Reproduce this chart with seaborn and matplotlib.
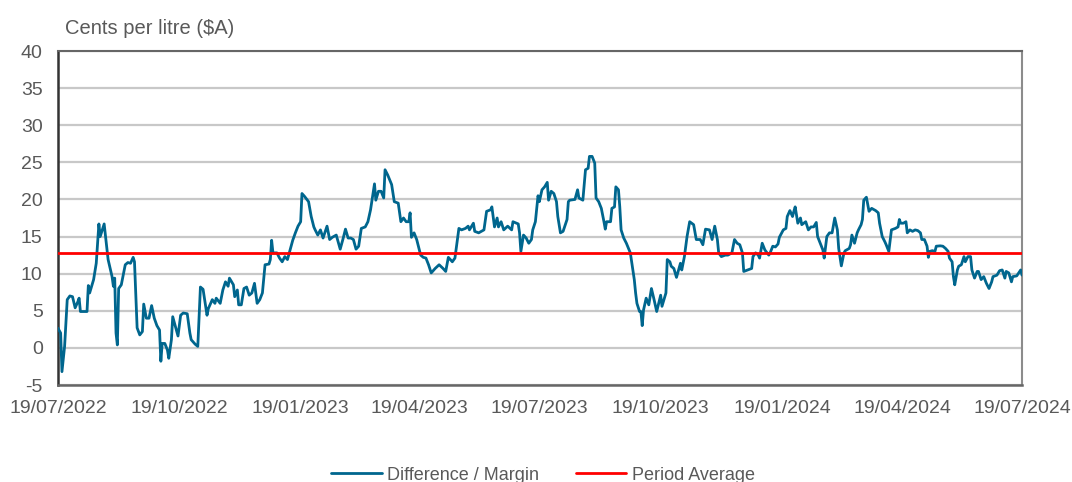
import numpy as np
import pandas as pd
import matplotlib
matplotlib.use("Agg")
import matplotlib.pyplot as plt
import seaborn as sns
from matplotlib.lines import Line2D

start_date = "2022-07-19"

day_offset = [
    0, 2, 3, 5, 7, 9, 11, 13, 15, 16, 17, 22, 23, 24, 27, 29, 31, 32, 35, 38,
    41, 42, 43, 44, 45, 46, 48, 51, 53, 55, 57, 58, 60, 62, 64, 65, 67, 69, 71, 73,
    75, 77, 78, 79, 81, 83, 84, 86, 87, 89, 91, 93, 95, 98, 100, 101, 104, 106, 108, 110,
    113, 114, 117, 119, 120, 123, 125, 127, 129, 130, 133, 134, 136, 137, 139, 141, 143, 145, 147, 149,
    151, 153, 155, 157, 160, 161, 162, 163, 166, 168, 170, 172, 174, 176, 178, 180, 182, 184,
    185, 187, 190, 192, 194, 195, 197, 199, 201, 204, 206, 208, 211, 214, 216, 218, 220, 222, 224, 226,
    228, 230, 233, 235, 237, 240, 241, 243, 245, 247, 248, 250, 253, 255, 258, 260, 262, 264, 266, 267,
    268, 270, 272, 275, 277, 279, 281, 283, 286, 289, 292, 294, 296, 299, 301, 304, 306, 309, 311, 312,
    315, 316, 319, 321, 323, 325, 328, 329, 331, 333, 334, 336, 338, 341, 344, 345, 349, 350, 351, 353,
    355, 357, 359, 360, 362, 364, 365, 367, 369, 371, 372, 374, 376, 378, 379, 381, 383, 386, 387, 388,
    392, 394, 395, 398, 400, 402, 403, 405, 407, 408, 410, 412, 414, 415, 416, 419, 420, 422, 423, 425,
    426, 427, 429, 431, 434, 435, 437, 438, 439, 441, 442, 443, 444, 446, 448, 450, 452, 454, 457, 458,
    461, 462, 464, 465, 467, 469, 472, 473, 475, 477, 479, 482, 484, 487, 489, 491, 494, 496, 498, 500,
    501, 503, 506, 508, 511, 513, 515, 517, 519, 520, 523, 526, 527, 529, 531, 532, 534, 536, 539, 540,
    542, 544, 546, 547, 550, 552, 553, 555, 557, 558, 559, 561, 563, 564, 567, 569, 571, 573, 575, 576,
    578, 580, 581, 583, 585, 587, 589, 591, 592, 594, 596, 597, 600, 601, 602, 604, 606, 607, 609, 610,
    611, 613, 615, 617, 620, 622, 623, 625, 627, 628, 630, 632, 635, 637, 638, 639, 641, 643, 644, 646,
    648, 650, 652, 654, 655, 657, 659, 660, 661, 663, 665, 666, 669, 671, 673, 675, 676, 678, 679, 680,
    682, 683, 685, 687, 688, 690, 692, 693, 695, 697, 698, 700, 702, 704, 706, 708, 709, 712, 714, 716,
    718, 719, 721, 723, 724, 727, 730, 731,
]

margin = [
    2.65, 2.0, -3.2, 0.2, 6.5, 7.0, 6.9, 5.4, 6.2, 6.7, 4.9, 4.9, 8.4, 7.4, 9.2, 11.4, 16.7, 15.0, 16.7, 11.9,
    9.6, 8.3, 9.4, 2.0, 0.4, 8.0, 8.5, 11.2, 11.5, 11.4, 12.2, 11.6, 2.7, 1.75, 2.2, 5.9, 4.0, 4.0, 5.7, 4.0,
    3.0, 2.4, -1.8, 0.6, 0.6, -0.3, -1.4, 1.1, 4.2, 2.9, 1.6, 4.4, 4.7, 4.6, 2.0, 1.1, 0.5, 0.2, 8.2, 7.9,
    4.4, 5.3, 6.5, 6.0, 6.7, 6.0, 7.8, 8.9, 8.3, 9.4, 8.5, 6.9, 7.8, 5.8, 5.8, 8.0, 8.2, 7.1, 7.4, 8.7,
    6.0, 6.5, 7.4, 11.2, 11.3, 11.9, 14.5, 12.8, 12.8, 12.1, 11.6, 12.3, 11.9, 13.2, 14.5, 15.5, 16.4, 17.0,
    20.8, 20.4, 19.7, 17.7, 16.3, 15.9, 15.2, 15.9, 14.8, 16.4, 14.6, 14.9, 15.2, 13.3, 14.6, 16.0, 14.8, 14.8, 14.6, 13.3,
    13.7, 16.1, 16.3, 17.0, 18.6, 22.1, 19.9, 21.1, 21.1, 20.2, 24.0, 23.3, 22.0, 19.7, 19.5, 17.0, 17.5, 17.0, 17.0, 18.2,
    14.9, 15.5, 14.6, 12.5, 12.2, 12.1, 11.2, 10.1, 10.7, 11.2, 10.7, 10.3, 12.2, 11.6, 12.1, 16.1, 15.9, 16.1, 16.4, 15.9,
    16.8, 15.7, 15.5, 15.7, 15.9, 18.4, 18.6, 19.0, 16.3, 17.5, 16.3, 17.0, 15.9, 16.4, 15.9, 17.0, 16.7, 15.5, 13.0, 15.2,
    14.8, 14.1, 14.6, 15.9, 17.0, 20.5, 19.7, 21.3, 21.7, 22.3, 19.9, 21.1, 20.8, 19.7, 17.7, 15.5, 15.7, 17.3, 19.7, 19.9,
    20.0, 21.3, 20.2, 19.9, 24.0, 24.2, 25.8, 25.8, 24.9, 20.2, 19.7, 18.8, 17.0, 16.0, 17.0, 17.0, 18.8, 19.0, 21.7, 21.3,
    19.0, 15.9, 14.8, 14.1, 12.8, 11.6, 9.2, 7.4, 6.0, 4.9, 4.9, 3.0, 5.1, 6.7, 5.8, 8.0, 6.5, 4.9, 7.1, 5.6,
    7.4, 11.9, 11.6, 11.0, 10.7, 9.5, 11.4, 10.5, 12.3, 15.0, 17.0, 16.6, 14.6, 14.6, 13.9, 16.0, 15.9, 14.6, 16.4, 14.6,
    12.8, 12.3, 12.5, 12.5, 12.8, 14.6, 14.1, 13.9, 12.8, 10.3, 10.5, 10.7, 12.3, 12.8, 12.5, 12.1, 14.1, 13.2, 12.5, 12.8,
    13.7, 13.6, 14.0, 14.9, 15.9, 16.1, 17.7, 18.5, 17.7, 18.4, 19.0, 16.8, 17.5, 16.6, 17.0, 15.9, 16.3, 16.3, 16.9, 15.0,
    14.1, 13.2, 12.1, 15.0, 15.5, 15.5, 17.5, 15.9, 13.4, 11.05, 12.8, 13.1, 13.4, 13.9, 15.2, 14.1, 15.5, 15.9, 16.6, 17.3,
    19.9, 20.3, 18.4, 18.8, 18.5, 18.2, 16.8, 15.0, 14.3, 13.9, 13.0, 15.9, 16.1, 16.3, 17.3, 16.8, 16.8, 17.0, 15.5, 15.9,
    15.7, 15.9, 15.8, 15.5, 14.6, 14.6, 13.7, 12.2, 13.0, 13.1, 13.0, 13.7, 13.75, 13.7, 13.4, 13.0, 12.1, 11.6, 9.6, 8.5,
    10.5, 11.0, 11.2, 12.3, 11.6, 12.3, 12.3, 10.5, 9.4, 10.3, 10.3, 9.2, 9.6, 8.7, 8.0, 8.9, 9.6, 9.8, 10.4, 10.5,
    9.4, 10.3, 10.1, 8.9, 9.6, 9.7, 10.5, 9.8,
]

period_average = 12.8

tick_dates = ["2022-07-19", "2022-10-19", "2023-01-19", "2023-04-19", "2023-07-19",
              "2023-10-19", "2024-01-19", "2024-04-19", "2024-07-19"]
tick_labels = ["19/07/2022", "19/10/2022", "19/01/2023", "19/04/2023", "19/07/2023",
               "19/10/2023", "19/01/2024", "19/04/2024", "19/07/2024"]
y_ticks = [-5, 0, 5, 10, 15, 20, 25, 30, 35, 40]
series_names = ["Difference / Margin", "Period Average"]
y_title = "Cents per litre ($A)"

sns.set_theme(style="white")
plt.rcParams['font.family'] = ['Liberation Sans', 'DejaVu Sans']

line_color = "#00668E"
avg_color = "#FF0000"
text_color = "#595959"

df = pd.DataFrame({
    "date": pd.Timestamp(start_date) + pd.to_timedelta(day_offset, unit="D"),
    "value": margin,
})

W, H = 1072, 482
fig = plt.figure(figsize=(W / 100, H / 100), dpi=100)
ax = fig.add_axes([58 / W, 1 - 385 / H, (1022 - 58) / W, (385 - 51) / H])

ax.set_axisbelow(True)
ax.grid(axis="y", color="#C8C8C8", linewidth=1.6)
ax.grid(axis="x", visible=False)

sns.lineplot(data=df, x="date", y="value", ax=ax, color=line_color,
             linewidth=2.0, legend=False, zorder=3)
ax.axhline(period_average, color=avg_color, linewidth=2.0, zorder=4)

ax.set_xlim(pd.Timestamp(tick_dates[0]), pd.Timestamp(tick_dates[-1]))
ax.set_ylim(-5, 40)
ax.set_yticks(y_ticks)
ax.set_yticklabels([str(v) for v in y_ticks])
ax.set_xticks(pd.to_datetime(tick_dates))
ax.set_xticklabels(tick_labels)
ax.set_xlabel("")
ax.set_ylabel("")
ax.tick_params(axis="both", length=0, labelsize=14, colors=text_color)
ax.tick_params(axis="y", pad=11)
ax.tick_params(axis="x", pad=11)

for side, col, lw in [("left", "#333333", 1.8), ("bottom", "#666666", 1.8),
                      ("right", "#8C8C8C", 1.5), ("top", "#666666", 1.5)]:
    ax.spines[side].set_visible(True)
    ax.spines[side].set_color(col)
    ax.spines[side].set_linewidth(lw)

fig.text(65 / W, 1 - 28 / H, y_title, ha="left", va="center",
         fontsize=14.5, color=text_color)

handles = [Line2D([0], [0], color=line_color, linewidth=2.0),
           Line2D([0], [0], color=avg_color, linewidth=2.0)]
leg = fig.legend(handles, series_names, loc="center", ncol=2,
                 bbox_to_anchor=(543 / W, 1 - 475 / H), frameon=False,
                 fontsize=13, handlelength=2.8, handletextpad=0.3,
                 columnspacing=2.0)
for t in leg.get_texts():
    t.set_color(text_color)

fig.savefig("out.png", dpi=100)
